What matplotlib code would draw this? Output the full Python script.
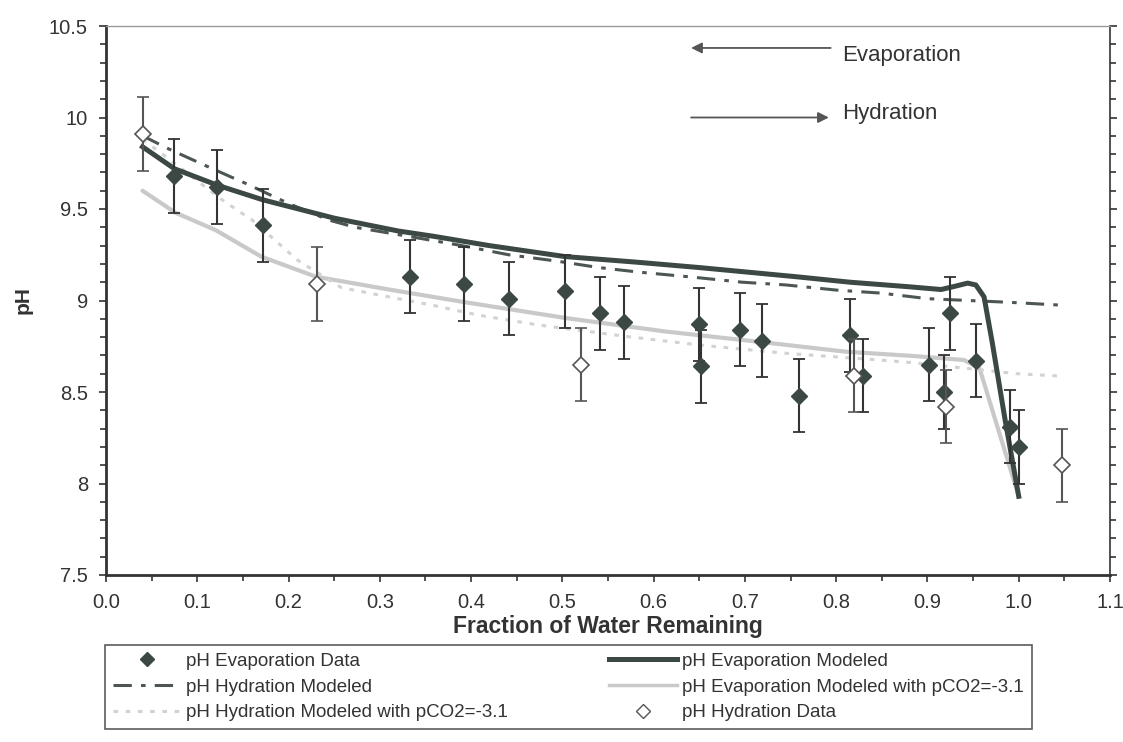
import matplotlib
matplotlib.use('Agg')
from matplotlib import pyplot as plt
from matplotlib.ticker import MultipleLocator, FormatStrFormatter
from matplotlib.lines import Line2D

plt.rcParams['font.family'] = ['Liberation Sans', 'DejaVu Sans']

# measured data (filled diamonds = evaporation, open = hydration)
evap_x = [0.075, 0.122, 0.172, 0.333, 0.392, 0.441, 0.503, 0.541, 0.568, 0.650, 0.652,
          0.695, 0.719, 0.759, 0.815, 0.829, 0.902, 0.918, 0.925, 0.953, 0.990, 1.000]
evap_y = [9.68, 9.62, 9.41, 9.13, 9.09, 9.01, 9.05, 8.93, 8.88, 8.87, 8.64,
          8.84, 8.78, 8.48, 8.81, 8.59, 8.65, 8.50, 8.93, 8.67, 8.31, 8.20]
evap_err = 0.2

hyd_x = [0.041, 0.231, 0.520, 0.820, 0.920, 1.047]
hyd_y = [9.91, 9.09, 8.65, 8.59, 8.42, 8.10]
hyd_err = 0.2

# modeled curves
evmod_x = [0.04, 0.075, 0.122, 0.172, 0.25, 0.32, 0.36, 0.42, 0.503, 0.58, 0.65, 0.756,
           0.815, 0.88, 0.915, 0.932, 0.944, 0.953, 0.962, 0.971, 0.985, 1.0]
evmod_y = [9.84, 9.72, 9.63, 9.55, 9.45, 9.38, 9.35, 9.30, 9.24, 9.21, 9.18, 9.13,
           9.10, 9.075, 9.06, 9.08, 9.095, 9.085, 9.02, 8.77, 8.35, 7.93]

hymod_x = [0.04, 0.068, 0.09, 0.11, 0.137, 0.153, 0.2, 0.244, 0.273, 0.332, 0.39, 0.441,
           0.493, 0.54, 0.584, 0.642, 0.697, 0.745, 0.8, 0.85, 0.9, 0.945, 0.99, 1.045]
hymod_y = [9.90, 9.83, 9.78, 9.735, 9.675, 9.64, 9.53, 9.44, 9.40, 9.35, 9.30, 9.25,
           9.216, 9.18, 9.155, 9.128, 9.10, 9.085, 9.057, 9.04, 9.01, 9.0, 8.99, 8.975]

evco2_x = [0.04, 0.076, 0.12, 0.17, 0.23, 0.31, 0.394, 0.504, 0.614, 0.723, 0.811,
           0.884, 0.94, 0.957, 1.0]
evco2_y = [9.60, 9.48, 9.385, 9.24, 9.13, 9.06, 8.99, 8.904, 8.83, 8.77, 8.72,
           8.697, 8.675, 8.63, 7.93]

hyco2_x = [0.04, 0.07, 0.101, 0.13, 0.16, 0.185, 0.21, 0.258, 0.32, 0.357, 0.408,
           0.474, 0.576, 0.65, 0.741, 0.847, 0.884, 0.998, 1.045]
hyco2_y = [9.88, 9.77, 9.65, 9.54, 9.44, 9.33, 9.22, 9.07, 9.01, 8.975, 8.92,
           8.866, 8.80, 8.757, 8.713, 8.675, 8.66, 8.60, 8.587]

dark = '#3b4843'
light = '#c9c9c9'
dashdot = (0, (6, 3, 1.5, 3))
dotted = (0, (1.5, 2.5))

fig = plt.figure(figsize=(11.23, 7.42), dpi=100)
ax = fig.add_axes([106/1123, 1-575/742, (1110-106)/1123, (575-26)/742])

ax.plot(evco2_x, evco2_y, color=light, lw=3.0, solid_capstyle='round', zorder=2)
ax.plot(hyco2_x, hyco2_y, color='#d2d2d2', lw=2.2, linestyle=dotted, zorder=2)
ax.plot(hymod_x, hymod_y, color='#4d5752', lw=2.2, linestyle=dashdot, zorder=3)
ax.plot(evmod_x, evmod_y, color=dark, lw=3.6, zorder=3)

ax.errorbar(evap_x, evap_y, yerr=evap_err, fmt='D', color=dark, ms=8, mec=dark,
            ecolor='#333333', elinewidth=1.5, capsize=4, capthick=1.3, zorder=5)
ax.errorbar(hyd_x, hyd_y, yerr=hyd_err, fmt='D', mfc='white', mec='#555555', ms=8,
            mew=1.2, ecolor='#555555', elinewidth=1.5, capsize=4, capthick=1.3, zorder=6)

ax.set_xlim(0.0, 1.1)
ax.set_ylim(7.5, 10.5)
ax.xaxis.set_major_locator(MultipleLocator(0.1))
ax.xaxis.set_minor_locator(MultipleLocator(0.05))
ax.yaxis.set_major_locator(MultipleLocator(0.5))
ax.yaxis.set_minor_locator(MultipleLocator(0.1))
ax.xaxis.set_major_formatter(FormatStrFormatter('%.1f'))
ax.yaxis.set_major_formatter(lambda v, p: f'{v:g}')

ax.tick_params(which='both', direction='out', labelsize=14.5, colors='#333333', width=1.2)
ax.tick_params(which='major', length=5)
ax.tick_params(which='minor', length=4)
ax.tick_params(axis='y', which='both', right=True, labelright=False, pad=8)
ax.tick_params(axis='x', which='both', pad=8)

for s in ['left', 'bottom']:
    ax.spines[s].set_linewidth(2.0)
    ax.spines[s].set_color('#333333')
ax.spines['right'].set_linewidth(1.2)
ax.spines['right'].set_color('#333333')
ax.spines['top'].set_linewidth(1.0)
ax.spines['top'].set_color('#999999')

ax.set_ylabel('pH', fontsize=15, fontweight='bold', color='#333333', labelpad=12)
ax.set_xlabel('Fraction of Water Remaining', fontsize=16.5, fontweight='bold',
              color='#333333', labelpad=2)

# direction arrows
ax.annotate('', xy=(0.638, 10.38), xytext=(0.797, 10.38),
            arrowprops=dict(arrowstyle='-|>', color='#555555', lw=1.3, mutation_scale=16))
ax.text(0.807, 10.34, 'Evaporation', fontsize=16, color='#333333', va='center')
ax.annotate('', xy=(0.795, 10.0), xytext=(0.638, 10.0),
            arrowprops=dict(arrowstyle='-|>', color='#555555', lw=1.3, mutation_scale=16))
ax.text(0.807, 10.02, 'Hydration', fontsize=16, color='#333333', va='center')

handles = [
    Line2D([], [], marker='D', ls='none', color=dark, ms=7),
    Line2D([], [], color='#4d5752', lw=2.2, linestyle=dashdot),
    Line2D([], [], color='#d2d2d2', lw=2.2, linestyle=dotted),
    Line2D([], [], color=dark, lw=3.6),
    Line2D([], [], color=light, lw=2.5),
    Line2D([], [], marker='D', ls='none', mfc='white', mec='#555555', ms=7),
]
labels = ['pH Evaporation Data', 'pH Hydration Modeled', 'pH Hydration Modeled with pCO2=-3.1',
          'pH Evaporation Modeled', 'pH Evaporation Modeled with pCO2=-3.1', 'pH Hydration Data']
leg = fig.legend(handles, labels, ncol=2, loc='lower left',
                 bbox_to_anchor=(96/1123, 4/742), fontsize=13.5, frameon=True,
                 fancybox=False, edgecolor='#333333', handlelength=3.6, handletextpad=0.3,
                 columnspacing=5.4, labelspacing=0.45, borderpad=0.4)
leg.get_frame().set_linewidth(1.2)
for t in leg.get_texts():
    t.set_color('#333333')

fig.savefig('out.png', dpi=100, facecolor='white')
